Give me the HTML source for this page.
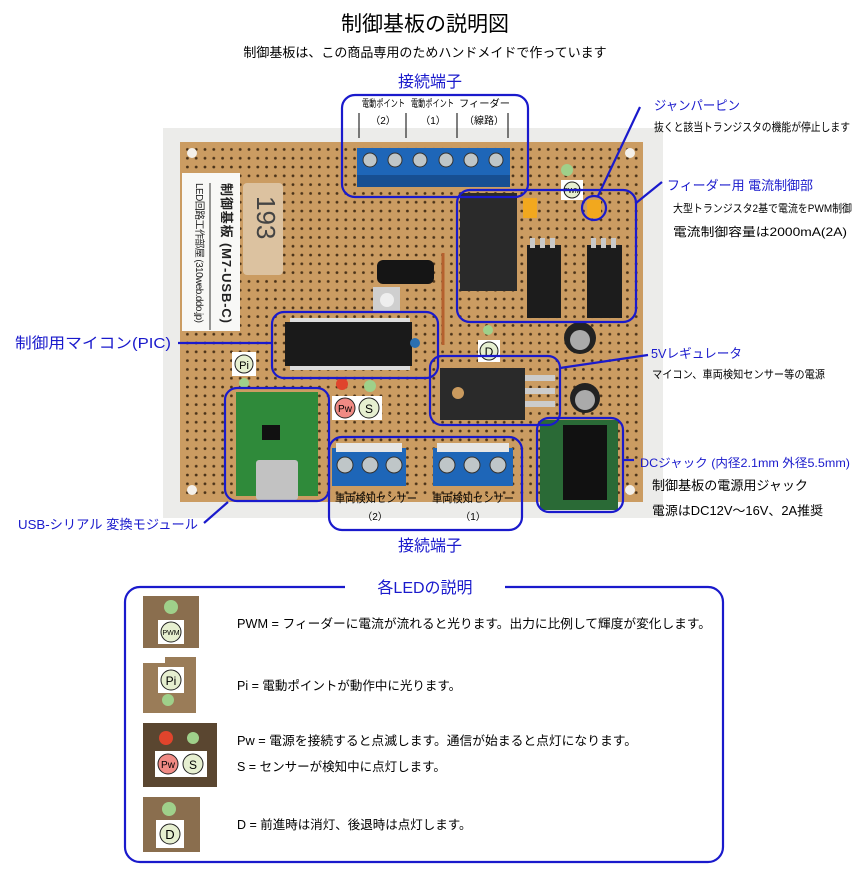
<!DOCTYPE html>
<html><head><meta charset="utf-8"><style>
body{margin:0;background:#fff;width:860px;height:870px;overflow:hidden;font-family:"Liberation Sans","Noto Sans CJK JP",sans-serif;}
svg text{font-family:"Liberation Sans","Noto Sans CJK JP",sans-serif;}
</style></head><body>
<svg width="860" height="870" viewBox="0 0 860 870" xmlns="http://www.w3.org/2000/svg">
<defs>
<pattern id="holes" x="183" y="145" width="8.8" height="8.8" patternUnits="userSpaceOnUse">
<circle cx="4.4" cy="4.4" r="1.4" fill="#4a3218"/>
</pattern>
</defs>
<text x="425" y="31" font-size="21" text-anchor="middle" fill="#000">制御基板の説明図</text>
<text x="425" y="57" font-size="13" text-anchor="middle" fill="#000">制御基板は、この商品専用のためハンドメイドで作っています</text>

<rect x="163" y="128" width="500" height="390" fill="#ececea"/>
<rect x="180" y="142" width="463" height="360" fill="#cb9c62"/>
<rect x="183" y="145" width="458" height="354" fill="url(#holes)"/>
<circle cx="192" cy="153" r="5" fill="#f4f0ea"/><circle cx="630" cy="153" r="5" fill="#f4f0ea"/>
<circle cx="192" cy="490" r="5" fill="#f4f0ea"/><circle cx="630" cy="490" r="5" fill="#f4f0ea"/>
<rect x="182" y="173" width="58" height="158" fill="#f8f8f6"/>
<text transform="translate(222,183) rotate(90)" font-size="13" font-weight="bold" fill="#222" textLength="140">制御基板 (M7-USB-C)</text>
<text transform="translate(196,183) rotate(90)" font-size="10" fill="#222" textLength="140">LED回路工作部屋 (310web.ddo.jp)</text>
<line x1="210" y1="183" x2="210" y2="330" stroke="#333" stroke-width="1"/>
<rect x="243" y="183" width="40" height="92" rx="4" fill="#dcc2a0"/>
<text transform="translate(257,196) rotate(90)" font-size="26" fill="#444">193</text>
<rect x="357" y="148" width="153" height="38" fill="#1e66b8"/>
<rect x="357" y="175" width="153" height="12" fill="#174f92"/>
<g fill="#bfc6c8" stroke="#333">
<circle cx="370" cy="160" r="7"/><circle cx="395" cy="160" r="7"/><circle cx="420" cy="160" r="7"/><circle cx="446" cy="160" r="7"/><circle cx="471" cy="160" r="7"/><circle cx="496" cy="160" r="7"/></g>
<circle cx="567" cy="170" r="6" fill="#9fd08a"/>
<rect x="561" y="180" width="22" height="20" fill="#fff"/><circle cx="572" cy="190" r="8" fill="#e6efd0" stroke="#222"/>
<text x="572" y="193" font-size="7" text-anchor="middle">PWM</text>
<rect x="460" y="193" width="57" height="98" fill="#2a2a2a"/>
<rect x="523" y="198" width="14" height="20" fill="#f2a81e"/>
<rect x="587" y="200" width="14" height="18" fill="#f2a81e"/>
<rect x="527" y="245" width="34" height="73" fill="#1c1c1c"/>
<rect x="587" y="245" width="35" height="73" fill="#1c1c1c"/>
<g fill="#c9c9c9"><rect x="530" y="238" width="5" height="10"/><rect x="540" y="238" width="5" height="10"/><rect x="550" y="238" width="5" height="10"/><rect x="591" y="238" width="5" height="10"/><rect x="601" y="238" width="5" height="10"/><rect x="611" y="238" width="5" height="10"/></g>
<rect x="377" y="260" width="57" height="24" rx="6" fill="#151515"/>
<rect x="373" y="287" width="27" height="25" fill="#cfcfcf"/><circle cx="387" cy="300" r="7" fill="#eee"/>
<line x1="443" y1="253" x2="443" y2="345" stroke="#b5602e" stroke-width="3"/>
<rect x="285" y="322" width="127" height="44" fill="#1a1a1a"/>
<g fill="#ddd"><rect x="290" y="318" width="120" height="4"/><rect x="290" y="366" width="120" height="4"/></g>
<circle cx="415" cy="343" r="5" fill="#2a6fb0"/>
<circle cx="488" cy="330" r="5" fill="#9fd08a"/>
<rect x="478" y="340" width="22" height="22" fill="#fff"/><circle cx="489" cy="351" r="9" fill="#e6efd0" stroke="#222"/>
<text x="489" y="356" font-size="12" text-anchor="middle">D</text>
<rect x="440" y="368" width="85" height="52" fill="#2a2a2a"/><circle cx="458" cy="393" r="6" fill="#c99a5e"/>
<g fill="#ccc"><rect x="525" y="375" width="30" height="6"/><rect x="525" y="388" width="30" height="6"/><rect x="525" y="401" width="30" height="6"/></g>
<circle cx="580" cy="338" r="16" fill="#222"/><circle cx="580" cy="340" r="10" fill="#aaa"/>
<circle cx="585" cy="398" r="15" fill="#222"/><circle cx="585" cy="400" r="10" fill="#aaa"/>
<rect x="232" y="352" width="24" height="24" fill="#fff"/><circle cx="244" cy="364" r="9" fill="#e6efd0" stroke="#222"/><text x="244" y="369" font-size="11" text-anchor="middle">Pi</text>
<circle cx="244" cy="383" r="5" fill="#9fd08a"/>
<circle cx="342" cy="384" r="6" fill="#e0442c"/><circle cx="370" cy="386" r="6" fill="#9fd08a"/>
<rect x="332" y="396" width="50" height="24" fill="#fff"/>
<circle cx="345" cy="408" r="10" fill="#f08a84" stroke="#222"/><text x="345" y="412" font-size="10" text-anchor="middle">Pw</text>
<circle cx="369" cy="408" r="10" fill="#e6efd0" stroke="#222"/><text x="369" y="413" font-size="12" text-anchor="middle">S</text>
<rect x="236" y="392" width="82" height="104" fill="#2f8a3a"/>
<rect x="256" y="460" width="42" height="40" rx="3" fill="#c2c2c2"/>
<rect x="262" y="425" width="18" height="15" fill="#111"/>
<rect x="332" y="448" width="74" height="38" fill="#1e66b8"/>
<rect x="433" y="448" width="80" height="38" fill="#1e66b8"/>
<rect x="336" y="443" width="66" height="9" fill="#e6e6e6"/><rect x="437" y="443" width="72" height="9" fill="#e6e6e6"/>
<g fill="#bfc6c8" stroke="#333"><circle cx="345" cy="465" r="8"/><circle cx="370" cy="465" r="8"/><circle cx="394" cy="465" r="8"/><circle cx="447" cy="465" r="8"/><circle cx="472" cy="465" r="8"/><circle cx="498" cy="465" r="8"/></g>
<rect x="540" y="420" width="78" height="90" fill="#2a6a36"/>
<rect x="563" y="425" width="44" height="75" fill="#111"/>
<g font-size="10" fill="#000">
<text x="362" y="107" textLength="43" lengthAdjust="spacingAndGlyphs">電動ポイント</text><text x="411" y="107" textLength="43" lengthAdjust="spacingAndGlyphs">電動ポイント</text><text x="459" y="107" textLength="51" lengthAdjust="spacingAndGlyphs">フィーダー</text>
<text x="383" y="124" text-anchor="middle">（2）</text><text x="433" y="124" text-anchor="middle">（1）</text><text x="484" y="124" text-anchor="middle">（線路）</text>
<text x="335" y="502" font-size="11" textLength="82" lengthAdjust="spacingAndGlyphs">車両検知センサー</text><text x="432" y="502" font-size="11" textLength="82" lengthAdjust="spacingAndGlyphs">車両検知センサー</text>
<text x="375" y="520" text-anchor="middle">（2）</text><text x="473" y="520" text-anchor="middle">（1）</text>
</g>
<g stroke="#000" stroke-width="1"><line x1="359" y1="113" x2="359" y2="138"/><line x1="406" y1="113" x2="406" y2="138"/><line x1="457" y1="113" x2="457" y2="138"/><line x1="508" y1="113" x2="508" y2="138"/></g>

<g fill="none" stroke="#1a1acc" stroke-width="2.2">
<rect x="342" y="95" width="186" height="102" rx="13"/>
<rect x="457" y="190" width="179" height="132" rx="13"/>
<circle cx="594" cy="208" r="12"/>
<rect x="272" y="312" width="166" height="66" rx="12"/>
<rect x="430" y="356" width="130" height="69" rx="12"/>
<rect x="537" y="418" width="86" height="94" rx="12"/>
<rect x="225" y="388" width="104" height="113" rx="12"/>
<rect x="329" y="437" width="193" height="93" rx="13"/>
<line x1="598" y1="196" x2="640" y2="107"/>
<line x1="636" y1="203" x2="662" y2="182"/>
<line x1="560" y1="368" x2="648" y2="355"/>
<line x1="623" y1="460" x2="634" y2="460"/>
<line x1="178" y1="343" x2="272" y2="343"/>
<line x1="204" y1="523" x2="228" y2="502"/>
</g>
<g fill="#1a1acc">
<text x="430" y="87" font-size="16" text-anchor="middle">接続端子</text>
<text x="430" y="551" font-size="16" text-anchor="middle">接続端子</text>
<text x="654" y="110" font-size="13" textLength="86" lengthAdjust="spacingAndGlyphs">ジャンパーピン</text>
<text x="667" y="190" font-size="13" textLength="146" lengthAdjust="spacingAndGlyphs">フィーダー用 電流制御部</text>
<text x="15" y="348" font-size="15" textLength="156" lengthAdjust="spacingAndGlyphs">制御用マイコン(PIC)</text>
<text x="651" y="358" font-size="13" textLength="91" lengthAdjust="spacingAndGlyphs">5Vレギュレータ</text>
<text x="640" y="467" font-size="12" textLength="210" lengthAdjust="spacingAndGlyphs">DCジャック (内径2.1mm 外径5.5mm)</text>
<text x="18" y="529" font-size="13" textLength="180" lengthAdjust="spacingAndGlyphs">USB-シリアル 変換モジュール</text>
</g>
<g fill="#000" font-size="11.5">
<text x="654" y="131" textLength="196" lengthAdjust="spacingAndGlyphs">抜くと該当トランジスタの機能が停止します</text>
<text x="673" y="212" font-size="11" textLength="179" lengthAdjust="spacingAndGlyphs">大型トランジスタ2基で電流をPWM制御</text>
<text x="673" y="236" font-size="12" textLength="174" lengthAdjust="spacingAndGlyphs">電流制御容量は2000mA(2A)</text>
<text x="652" y="378" font-size="11" textLength="173" lengthAdjust="spacingAndGlyphs">マイコン、車両検知センサー等の電源</text>
<text x="652" y="490" font-size="13" textLength="156" lengthAdjust="spacingAndGlyphs">制御基板の電源用ジャック</text>
<text x="652" y="515" font-size="12.5" textLength="171" lengthAdjust="spacingAndGlyphs">電源はDC12V～16V、2A推奨</text>
</g>

<path d="M345 587 H140 a15 15 0 0 0 -15 15 V847 a15 15 0 0 0 15 15 H708 a15 15 0 0 0 15 -15 V602 a15 15 0 0 0 -15 -15 H505" fill="none" stroke="#1a1acc" stroke-width="2.2"/>
<text x="425" y="593" font-size="16" text-anchor="middle" fill="#1a1acc">各LEDの説明</text>
<rect x="143" y="596" width="56" height="52" fill="#8a6e4e"/><circle cx="171" cy="607" r="7" fill="#9fd08a"/><rect x="158" y="620" width="26" height="24" fill="#fff"/><circle cx="171" cy="632" r="10" fill="#e6efd0" stroke="#222"/><text x="171" y="635" font-size="7" text-anchor="middle">PWM</text>
<rect x="143" y="657" width="53" height="56" fill="#9a7c58"/><rect x="143" y="657" width="22" height="6" fill="#fff"/><rect x="158" y="667" width="26" height="26" fill="#fff"/><circle cx="171" cy="680" r="10" fill="#e6efd0" stroke="#222"/><text x="171" y="685" font-size="12" text-anchor="middle">Pi</text><circle cx="168" cy="700" r="6" fill="#9fd08a"/>
<rect x="143" y="723" width="74" height="64" fill="#5a4630"/><circle cx="166" cy="738" r="7" fill="#e0442c"/><circle cx="193" cy="738" r="6" fill="#9fd08a"/><rect x="155" y="751" width="52" height="26" fill="#fff"/><circle cx="168" cy="764" r="10" fill="#f08a84" stroke="#222"/><text x="168" y="768" font-size="10" text-anchor="middle">Pw</text><circle cx="193" cy="764" r="10" fill="#e6efd0" stroke="#222"/><text x="193" y="769" font-size="12" text-anchor="middle">S</text>
<rect x="143" y="797" width="57" height="55" fill="#8a6e4e"/><circle cx="169" cy="809" r="7" fill="#9fd08a"/><rect x="156" y="820" width="28" height="28" fill="#fff"/><circle cx="170" cy="834" r="10" fill="#e6efd0" stroke="#222"/><text x="170" y="839" font-size="13" text-anchor="middle">D</text>
<g font-size="12.5" fill="#000">
<text x="237" y="628" textLength="474" lengthAdjust="spacingAndGlyphs">PWM = フィーダーに電流が流れると光ります。出力に比例して輝度が変化します。</text>
<text x="237" y="690">Pi = 電動ポイントが動作中に光ります。</text>
<text x="237" y="745" textLength="400" lengthAdjust="spacingAndGlyphs">Pw = 電源を接続すると点滅します。通信が始まると点灯になります。</text>
<text x="237" y="771">S = センサーが検知中に点灯します。</text>
<text x="237" y="829">D = 前進時は消灯、後退時は点灯します。</text>
</g>
</svg>
</body></html>
